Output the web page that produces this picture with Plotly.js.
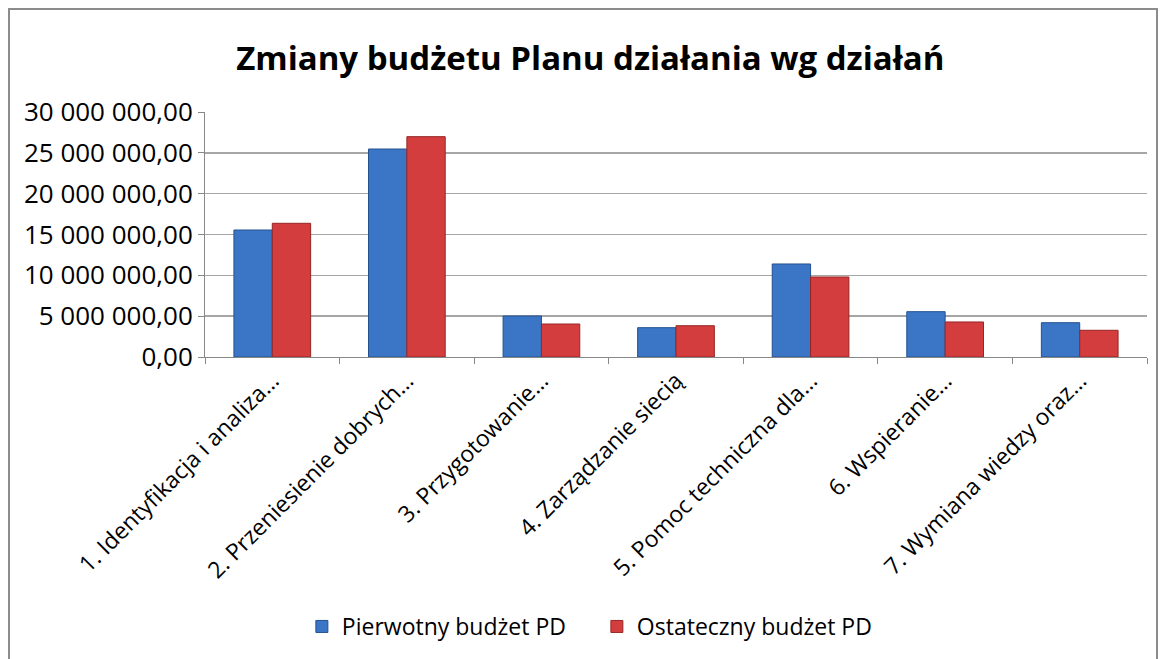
<!DOCTYPE html>
<html><head><meta charset="utf-8">
<script src="https://cdn.plot.ly/plotly-3.0.1.min.js"></script>
<style>
html,body{margin:0;padding:0;background:#fff;}
#frame{position:absolute;left:8px;top:8px;width:1150px;height:720px;border:2px solid #8c8c8c;box-sizing:border-box;}
#chart{position:absolute;left:0;top:0;width:1162px;height:659px;}
</style></head>
<body>
<div id="frame"></div>
<div id="chart"></div>
<script>
const categories = [
  "1. Identyfikacja i analiza…",
  "2. Przeniesienie dobrych…",
  "3. Przygotowanie…",
  "4. Zarządzanie siecią",
  "5. Pomoc techniczna dla…",
  "6. Wspieranie…",
  "7. Wymiana wiedzy oraz…"
];
const pierwotny = [15550000, 25470000, 5020000, 3590000, 11390000, 5550000, 4200000];
const ostateczny = [16370000, 26980000, 4040000, 3830000, 9800000, 4290000, 3270000];
const seriesNames = ["Pierwotny budżet PD", "Ostateczny budżet PD"];
const yTicks = [0, 5000000, 10000000, 15000000, 20000000, 25000000, 30000000];

const font = "'Open Sans', Lato, sans-serif";
const data = [
  {type:"bar", x:categories, y:pierwotny, name:seriesNames[0],
   marker:{color:"#3b76c6", line:{color:"#24508f", width:1}}},
  {type:"bar", x:categories, y:ostateczny, name:seriesNames[1],
   marker:{color:"#d43d3d", line:{color:"#962626", width:1}}}
];
const layout = {
  width:1162, height:659,
  paper_bgcolor:"rgba(0,0,0,0)", plot_bgcolor:"rgba(0,0,0,0)",
  separators:", ",
  margin:{l:205, r:15, t:112, b:302},
  title:{text:"<b>Zmiany budżetu Planu działania wg działań</b>", x:0.508, xanchor:"center", y:0.912, yanchor:"middle",
         font:{family:font, size:33, color:"#000"}},
  barmode:"group", bargap:0.43, bargroupgap:0,
  xaxis:{type:"category", tickangle:-45, tickson:"boundaries", ticks:"outside", ticklen:6, tickcolor:"#888",
         showline:true, linecolor:"#888", linewidth:1, showgrid:false,
         tickfont:{family:font, size:23, color:"#000"}, automargin:false},
  yaxis:{range:[0,30000000], tickvals:yTicks, tickformat:",.2f", ticks:"outside", ticklen:6, tickcolor:"#888",
         showline:true, linecolor:"#888", linewidth:1, showgrid:true, gridcolor:"#a6a6a6", gridwidth:1.5,
         zeroline:false, tickfont:{family:font, size:26, color:"#000"}, automargin:false},
  legend:{orientation:"h", x:0.416, xanchor:"center", y:-1.1, yanchor:"middle",
          font:{family:font, size:23, color:"#000"}, traceorder:"normal", itemwidth:30,
          entrywidth:250},
  showlegend:true
};
Plotly.newPlot("chart", data, layout, {displayModeBar:false, staticPlot:true});
</script>
</body></html>
